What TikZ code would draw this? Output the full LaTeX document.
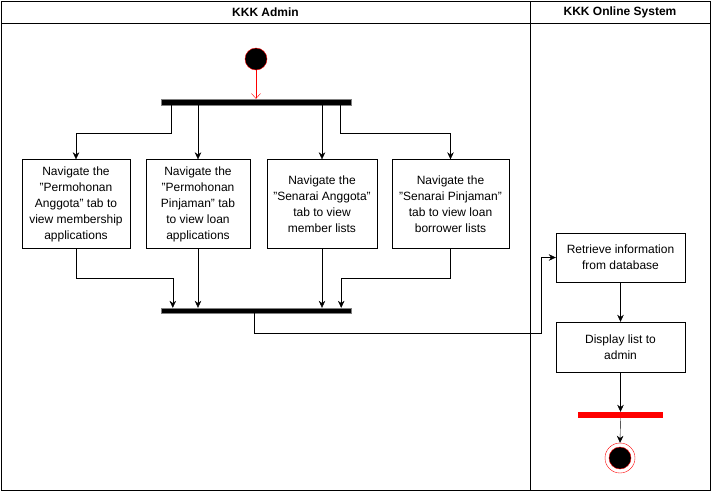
\documentclass[tikz,border=0pt]{standalone}
\usepackage{fontspec}
\setmainfont{Liberation Sans}
\usetikzlibrary{arrows.meta}
\newcommand{\dq}{\symbol{"22}}

\begin{document}
\begin{tikzpicture}[x=1pt, y=-1pt, font=\fontsize{12}{16}\selectfont]
\tikzstyle{activity} = [rectangle, draw=black, align=center, inner sep=2pt, minimum height=89pt]
\tikzstyle{bar} = [rectangle, inner sep=0pt, minimum height=6pt]
\tikzstyle{flow} = [draw=black, -{Stealth[length=7pt, width=6.5pt]}]

\useasboundingbox (0,0) rectangle (711,491);

% swimlanes
\draw (1,1) rectangle (710,490);
\draw (530,1) -- (530,490);
\draw (1,23) -- (710,23);
\node (admin) [font=\fontsize{12}{14}\bfseries] at (265.5,12) {KKK Admin};
\node (system) [font=\fontsize{12}{14}\bfseries] at (620,12) {KKK Online System};

\node (start) [circle, draw=red, fill=black, minimum size=22pt, inner sep=0pt] at (256,59) {};
\node (fork) [bar, fill=black, draw=gray, minimum width=190pt] at (256,102) {};

\node (box1) [activity, minimum width=108pt] at (76,204) {Navigate the\\\dq Permohonan\\Anggota\dq{} tab to\\view membership\\applications};
\node (box2) [activity, minimum width=104pt] at (198,204) {Navigate the\\\dq Permohonan\\Pinjaman\dq{} tab\\to view loan\\applications};
\node (box3) [activity, minimum width=110pt] at (322,204) {Navigate the\\\dq Senarai Anggota\dq\\tab to view\\member lists};
\node (box4) [activity, minimum width=117pt] at (450.5,204) {Navigate the\\\dq Senarai Pinjaman\dq\\tab to view loan\\borrower lists};

\node (join) [bar, fill=black, draw=gray, minimum width=190pt, minimum height=5pt] at (256,310.5) {};

\node (retrieve) [activity, minimum width=129pt, minimum height=49pt] at (620.5,257.5) {Retrieve information\\from database};
\node (display) [activity, minimum width=129pt, minimum height=50pt] at (620.5,347) {Display list to\\admin};
\node (merge) [bar, fill=red, minimum width=85pt] at (620.5,415) {};
\node (stop) [circle, draw=red, fill=white, minimum size=30pt, inner sep=0pt] at (620,458) {};
\node [circle, draw=red, fill=black, minimum size=22pt, inner sep=0pt] at (stop) {};

\draw [red, -{Straight Barb[length=5pt, width=9pt]}] (start) -- (fork.north);

\draw [flow] ([xshift=10]fork.south west) -- ++(0,28) -| (box1.north);
\draw [flow] (box2.north |- fork.south) -- (box2.north);
\draw [flow] (box3.north |- fork.south) -- (box3.north);
\draw [flow] ([xshift=-11]fork.south east) -- ++(0,28) -| (box4.north);

\draw [flow] (box1.south) -- ++(0,29) -| ([xshift=12]join.north west);
\draw [flow] (box2.south) -- (box2.south |- join.north);
\draw [flow] (box3.south) -- (box3.south |- join.north);
\draw [flow] (box4.south) -- ++(0,29) -| ([xshift=-10]join.north east);

\draw [flow] ([xshift=-2]join.south) -- ++(0,20) -| ([xshift=-15]retrieve.west) -- (retrieve.west);
\draw [flow] (retrieve) -- (display);
\draw [flow] (display) -- (merge.north);
\draw [flow] (merge.south) -- (stop.north);
\end{tikzpicture}
\end{document}
